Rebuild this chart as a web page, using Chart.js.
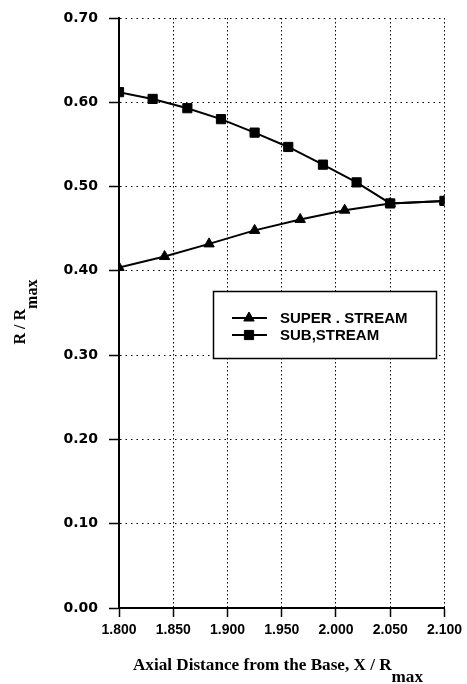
<!DOCTYPE html>
<html><head><meta charset="utf-8">
<script src="https://cdn.jsdelivr.net/npm/chart.js@4.4.0/dist/chart.umd.min.js"></script>
<style>html,body{margin:0;padding:0;background:#fff;}#wrap{width:467px;height:684px;position:relative;}</style>
</head><body><div id="wrap"><canvas id="c" width="467" height="684"></canvas></div>
<script>
// ---- data ----
const superX = [1.800, 1.842, 1.883, 1.925, 1.967, 2.008, 2.050, 2.100];
const superY = [0.404, 0.417, 0.432, 0.448, 0.461, 0.472, 0.480, 0.483];
const subX = [1.800, 1.831, 1.863, 1.894, 1.925, 1.956, 1.988, 2.019, 2.050, 2.100];
const subY = [0.612, 0.604, 0.593, 0.580, 0.564, 0.547, 0.526, 0.505, 0.480, 0.483];
const seriesLabels = ['SUPER . STREAM', 'SUB,STREAM'];
const xTicks = [1.80, 1.85, 1.90, 1.95, 2.00, 2.05, 2.10];
const xTickLabels = ['1.800', '1.850', '1.900', '1.950', '2.000', '2.050', '2.100'];
const yTicks = [0.0, 0.1, 0.2, 0.3, 0.4, 0.5, 0.6, 0.7];
const yTickLabels = ['0.00', '0.10', '0.20', '0.30', '0.40', '0.50', '0.60', '0.70'];
const xTitle = ['Axial Distance from the Base, X / R', 'max'];
const yTitle = ['R / R', 'max'];

const toPts = (xs, ys) => xs.map((x, i) => ({x: x, y: ys[i]}));

function drawSubTitle(ctx, parts, cx, cy, targetW, subShift, rotate) {
  ctx.save();
  ctx.font = 'bold 16px "Liberation Serif", "Times New Roman", serif';
  ctx.fillStyle = '#000';
  ctx.textBaseline = 'alphabetic';
  ctx.textAlign = 'left';
  const w1 = ctx.measureText(parts[0]).width;
  const w2 = ctx.measureText(parts[1]).width;
  const tot = w1 + w2;
  const sx = targetW / tot;
  ctx.translate(cx, cy);
  if (rotate) ctx.rotate(-Math.PI / 2);
  ctx.scale(sx, 1);
  ctx.fillText(parts[0], -tot / 2, 0);
  ctx.fillText(parts[1], -tot / 2 + w1, subShift);
  ctx.restore();
}

const decor = {
  id: 'decor',
  afterDraw(chart) {
    const ctx = chart.ctx;
    drawSubTitle(ctx, xTitle, 278, 670, 290, 12, false);
    drawSubTitle(ctx, yTitle, 25, 312, 65, 12, true);
    const bx = 213, by = 291, bw = 223, bh = 67;
    ctx.save();
    ctx.fillStyle = '#fff';
    ctx.fillRect(bx, by, bw, bh);
    ctx.strokeStyle = '#000';
    ctx.lineWidth = 1.5;
    ctx.strokeRect(bx + 0.5, by + 0.5, bw, bh);
    const rows = [318, 335];
    const styles = ['triangle', 'rect'];
    rows.forEach((ry, i) => {
      ctx.strokeStyle = '#000';
      ctx.fillStyle = '#000';
      ctx.lineWidth = 2;
      ctx.beginPath();
      ctx.moveTo(232, ry);
      ctx.lineTo(267, ry);
      ctx.stroke();
      ctx.lineWidth = 1;
      Chart.helpers.drawPoint(ctx, {pointStyle: styles[i], radius: styles[i] === 'rect' ? 6.5 : 6, rotation: 0, borderWidth: 1}, 249, ry);
    });
    ctx.fillStyle = '#000';
    ctx.font = 'bold 15px "Liberation Sans", Arial, sans-serif';
    ctx.textBaseline = 'middle';
    ctx.textAlign = 'left';
    ctx.fillText(seriesLabels[0], 280, rows[0] + 1);
    ctx.fillText(seriesLabels[1], 280, rows[1] + 1);
    ctx.restore();
  }
};

new Chart(document.getElementById('c'), {
  type: 'scatter',
  data: {
    datasets: [
      {label: seriesLabels[0], data: toPts(superX, superY), showLine: true, borderColor: '#000', backgroundColor: '#000',
       borderWidth: 2, pointStyle: 'triangle', pointRadius: 6, pointBorderWidth: 1, order: 2},
      {label: seriesLabels[1], data: toPts(subX, subY), showLine: true, borderColor: '#000', backgroundColor: '#000',
       borderWidth: 2, pointStyle: 'rect', pointRadius: 6.5, pointBorderWidth: 1, order: 1}
    ]
  },
  options: {
    responsive: false,
    animation: false,
    devicePixelRatio: 1,
    layout: {padding: {top: 16, right: 22, left: 0, bottom: 0}},
    plugins: {legend: {display: false}, tooltip: {enabled: false}},
    scales: {
      x: {
        type: 'linear', min: 1.8, max: 2.1,
        afterBuildTicks: s => { s.ticks = xTicks.map(v => ({value: v})); },
        afterFit: s => { s.height = 76; },
        ticks: {
          callback: (v, i) => xTickLabels[i],
          color: '#000', padding: 5, maxRotation: 0, autoSkip: false,
          font: {family: '"Liberation Sans", Arial, sans-serif', size: 14, weight: 'bold'}
        },
        grid: {color: '#000', lineWidth: 1, tickLength: 9, tickColor: '#000', tickWidth: 1.5, tickBorderDash: []},
        border: {display: true, color: '#000', width: 2, dash: [1.5, 2.5]}
      },
      y: {
        min: 0, max: 0.7,
        afterBuildTicks: s => { s.ticks = yTicks.map(v => ({value: v})); },
        afterFit: s => { s.width = 119; },
        ticks: {
          callback: (v, i) => yTickLabels[i],
          color: '#000', padding: 11,
          font: {family: '"DejaVu Sans", sans-serif', size: 14, weight: 'bold', lineHeight: 1}
        },
        grid: {color: '#000', lineWidth: 1, tickLength: 10, tickColor: '#000', tickWidth: 1.5, tickBorderDash: []},
        border: {display: true, color: '#000', width: 2, dash: [1.5, 4]}
      }
    }
  },
  plugins: [decor]
});
</script>
</body></html>
